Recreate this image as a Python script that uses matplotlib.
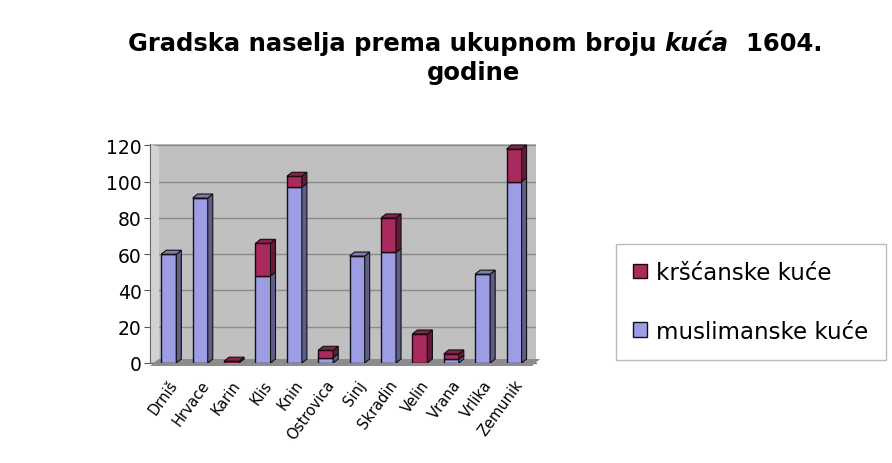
import matplotlib
matplotlib.use("Agg")
import matplotlib.pyplot as plt
from matplotlib.patches import Polygon
from matplotlib.transforms import IdentityTransform
import numpy as np

plt.rcParams['font.family'] = ['DejaVu Sans']

towns = ["Drniš", "Hrvace", "Karin", "Klis", "Knin", "Ostrovica", "Sinj",
         "Skradin", "Velin", "Vrana", "Vrlika", "Zemunik"]
muslimanske = [60, 91, 0, 48, 97, 3, 59, 61, 0, 2, 49, 100]
krscanske = [0, 0, 1, 18, 6, 4, 0, 19, 16, 3, 0, 18]
yticks = [0, 20, 40, 60, 80, 100, 120]

col_mus = "#9d9de3"
col_krs = "#a82a5e"

fig = plt.figure(figsize=(8.92, 4.64), dpi=100)
ax = fig.add_axes([150/892, 1-364/464, 386/892, (364-145)/464])
ax.set_facecolor("#c0c0c0")
ax.set_xlim(-0.6, 11.7)
ax.set_ylim(0, 120.8)
ax.set_yticks(yticks)
ax.set_yticklabels([str(v) for v in yticks], fontsize=13.5)
ax.yaxis.grid(True, color="#8a8a8a", linewidth=1)
ax.set_axisbelow(True)
x = np.arange(len(towns))
ax.set_xticks(x)
ax.set_xticklabels(towns, rotation=54, ha="right", rotation_mode="anchor", fontsize=10.5)
ax.tick_params(axis="x", length=0, pad=10)
ax.tick_params(axis="y", length=4, color="#555555", pad=2)
for s in ["top", "right"]:
    ax.spines[s].set_visible(False)
ax.spines["left"].set_color("#666666")
ax.spines["bottom"].set_color("#666666")

w = 0.48
b1 = ax.bar(x, muslimanske, w, color=col_mus, edgecolor="#111122", linewidth=1.0,
            label="muslimanske kuće", zorder=3)
b2 = ax.bar(x, krscanske, w, bottom=muslimanske, color=col_krs, edgecolor="#220010",
            linewidth=1.0, label="kršćanske kuće", zorder=3)

fig.canvas.draw()
dx, dy = 5, 4
T = ax.transData
# left side wall
lw = T.transform([(-0.6, 0), (-0.6, 120.8)])
wall = [tuple(lw[0]), tuple(lw[1]), (lw[1][0] + 9, lw[1][1] - 3), (lw[0][0] + 9, lw[0][1] + 4)]
ax.add_patch(Polygon(wall, closed=True, transform=IdentityTransform(),
                     facecolor="#d2d2d2", edgecolor="none", zorder=2.5, clip_on=False))
# floor strip
floor = T.transform([(-0.6, 0), (11.7, 0)])
fp = [(floor[0][0], floor[0][1] - 3), (floor[1][0] - 4, floor[1][1] - 3),
      (floor[1][0] + 4, floor[1][1] + 4), (floor[0][0] + 9, floor[0][1] + 4)]
ax.add_patch(Polygon(fp, closed=True, transform=IdentityTransform(),
                     facecolor="#8c8c8c", edgecolor="none", zorder=2.6, clip_on=False))

def shade(c, f):
    c = np.array(matplotlib.colors.to_rgb(c))
    return tuple(c * f)

for xi, m, k in zip(x, muslimanske, krscanske):
    segs = []
    if m > 0:
        segs.append((0, m, col_mus))
    if k > 0:
        segs.append((m, m + k, col_krs))
    for (y0, y1, c) in segs:
        p = T.transform([(xi + w/2, y0), (xi + w/2, y1)])
        side = [tuple(p[0]), tuple(p[1]), (p[1][0] + dx, p[1][1] + dy), (p[0][0] + dx, p[0][1] + dy)]
        ax.add_patch(Polygon(side, closed=True, transform=IdentityTransform(),
                             facecolor=shade(c, 0.6), edgecolor="#111111", linewidth=0.8, zorder=4))
    top_y = m + k
    tc = segs[-1][2]
    p = T.transform([(xi - w/2, top_y), (xi + w/2, top_y)])
    top = [tuple(p[0]), tuple(p[1]), (p[1][0] + dx, p[1][1] + dy), (p[0][0] + dx, p[0][1] + dy)]
    ax.add_patch(Polygon(top, closed=True, transform=IdentityTransform(),
                         facecolor=shade(tc, 0.8), edgecolor="#111111", linewidth=0.8, zorder=4))

leg = fig.legend(handles=[b2, b1], labels=["kršćanske kuće", "muslimanske kuće"],
                 loc="upper left", bbox_to_anchor=(616/892, 1-245/464), fontsize=16.5,
                 frameon=True, fancybox=False, edgecolor="#aaaaaa", handlelength=0.6,
                 handleheight=0.6, handletextpad=0.4, labelspacing=1.55, borderpad=0.75,
                 borderaxespad=0)
leg.get_frame().set_linewidth(1)

# title with italic word
fig.canvas.draw()
r = fig.canvas.get_renderer()
parts = [("Gradska naselja prema ukupnom broju ", "normal"), ("kuća", "italic"), ("  1604.", "normal")]
texts = [fig.text(0, 0, s, fontsize=17.5, fontweight="bold", style=st, va="center", ha="left")
         for s, st in parts]
widths = [t.get_window_extent(r).width for t in texts]
total = sum(widths)
xpos = 475 - total / 2
for t, wd in zip(texts, widths):
    t.set_position((xpos / 892, 1 - 44 / 464))
    xpos += wd
fig.text(474/892, 1 - 73/464, "godine", fontsize=17.5, fontweight="bold", ha="center", va="center")

fig.savefig("out.png", dpi=100, facecolor="white")
